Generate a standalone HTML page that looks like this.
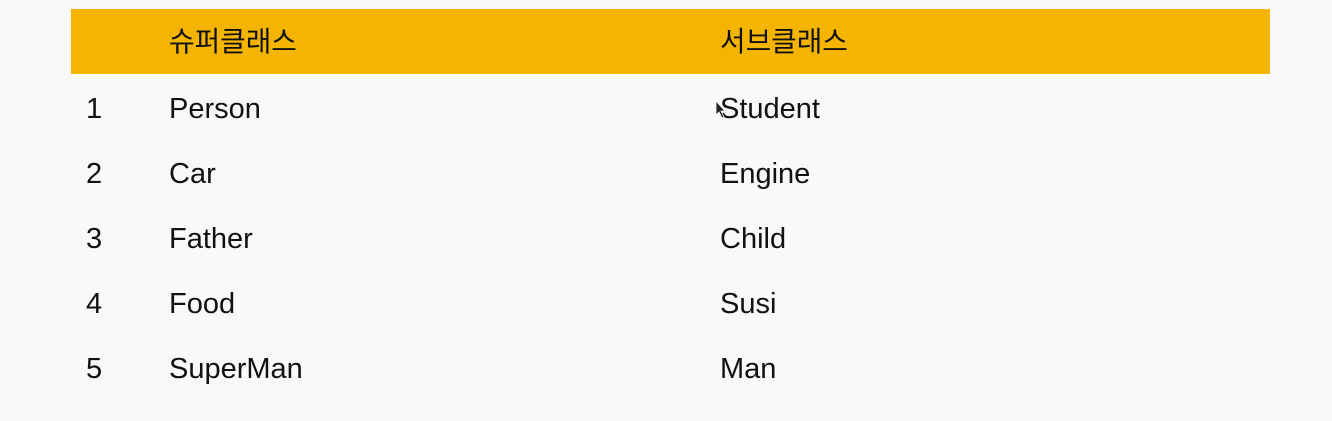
<!DOCTYPE html>
<html><head><meta charset="utf-8"><style>
body{margin:0;width:1332px;height:421px;background:#f9f9f9;position:relative;overflow:hidden;font-family:"Liberation Sans","Noto Sans CJK KR",sans-serif;color:#111}
.hdr{position:absolute;left:71px;top:9px;width:1199px;height:65px;background:#f5b400}
.t{position:absolute;font-size:29px;line-height:30px;white-space:nowrap}
.h{font-size:27.8px}
</style></head><body>
<div class="hdr"></div>
<div class="t h" style="left:169px;top:27px">슈퍼클래스</div>
<div class="t h" style="left:720px;top:27px">서브클래스</div>
<div id="rows"></div>
<svg style="position:absolute;left:715px;top:100px" width="12" height="20"><path d="M1 1 L1 15 L4 12 L7 18 L9 17 L6 11 L10 11 Z" fill="#222" stroke="#fff" stroke-width="0.8"/></svg>
<script>
const nums=["1","2","3","4","5"];
const supers=["Person","Car","Father","Food","SuperMan"];
const subs=["Student","Engine","Child","Susi","Man"];
const root=document.getElementById('rows');
nums.forEach((n,i)=>{
  const top=94+i*65;
  [[86,n,'row-number'],[169,supers[i],'superclass-cell'],[720,subs[i],'subclass-cell']].forEach(([x,txt,nm])=>{
    const d=document.createElement('div');
    d.className='t';
    d.style.left=x+'px';d.style.top=top+'px';
    d.textContent=txt;
    
    
    root.appendChild(d);
  });
});
</script>
</body></html>
